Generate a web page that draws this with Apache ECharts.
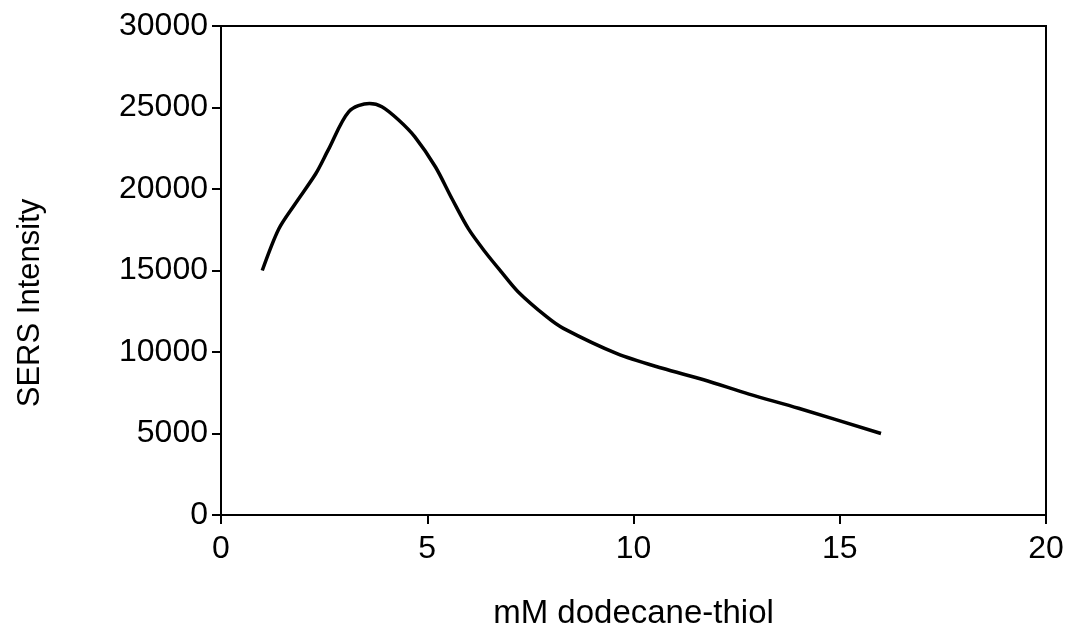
<!DOCTYPE html>
<html>
<head>
<meta charset="utf-8">
<script src="https://cdn.jsdelivr.net/npm/echarts@6/dist/echarts.min.js"></script>
<style>
  html, body { margin: 0; padding: 0; background: #fff; }
  #chart { width: 1070px; height: 638px; }
</style>
</head>
<body>
<div id="chart"></div>
<script>
// Thiol concentration (mM) and measured SERS intensity
const concentration = [1, 1.4, 1.8, 2.3, 2.6, 3.1, 3.6, 3.9, 4.3, 4.7, 5.2, 5.6, 6.0, 6.4, 6.8, 7.2, 7.9, 8.3, 9.6, 10.7, 11.7, 12.8, 14.0, 16.0];
const intensity = [15000, 17550, 19100, 20950, 22400, 24750, 25250, 25050, 24250, 23200, 21350, 19400, 17550, 16150, 14900, 13700, 12150, 11450, 9900, 9000, 8300, 7420, 6550, 5000];

const xTicks = [0, 5, 10, 15, 20];
const yTicks = [0, 5000, 10000, 15000, 20000, 25000, 30000];

const xTitle = 'mM dodecane-thiol';
const yTitle = 'SERS Intensity';

const font = '"Liberation Sans", Arial, Helvetica, sans-serif';
const points = concentration.map((c, i) => [c, intensity[i]]);

const chart = echarts.init(document.getElementById('chart'));
chart.setOption({
  backgroundColor: '#ffffff',
  animation: false,
  grid: {
    left: 221, right: 24, top: 26, bottom: 123,
    show: true, borderColor: '#000', borderWidth: 2, backgroundColor: 'transparent'
  },
  xAxis: {
    type: 'value',
    min: xTicks[0], max: xTicks[xTicks.length - 1], interval: 5,
    axisLine: { show: true, onZero: false, lineStyle: { color: '#000', width: 2 } },
    axisTick: { show: true, length: 9, lineStyle: { color: '#000', width: 2 } },
    axisLabel: { color: '#000', fontSize: 32, fontFamily: font, margin: 18, formatter: v => String(v) },
    splitLine: { show: false },
    name: xTitle,
    nameLocation: 'middle',
    nameGap: 82,
    nameTextStyle: { color: '#000', fontSize: 33, fontFamily: font }
  },
  yAxis: {
    type: 'value',
    min: yTicks[0], max: yTicks[yTicks.length - 1], interval: 5000,
    axisLine: { show: true, onZero: false, lineStyle: { color: '#000', width: 2 } },
    axisTick: { show: true, length: 9, lineStyle: { color: '#000', width: 2 } },
    axisLabel: { color: '#000', fontSize: 32, fontFamily: font, margin: 13, formatter: v => String(v) },
    splitLine: { show: false }
  },
  graphic: [{
    type: 'text',
    x: 15, y: 303,
    rotation: Math.PI / 2,
    style: {
      text: yTitle,
      fill: '#000',
      font: '31px ' + font,
      align: 'center',
      verticalAlign: 'top'
    }
  }],
  series: [{
    type: 'line',
    data: points,
    smooth: 0.3,
    showSymbol: false,
    lineStyle: { color: '#000', width: 3.5 }
  }]
});
</script>
</body>
</html>
